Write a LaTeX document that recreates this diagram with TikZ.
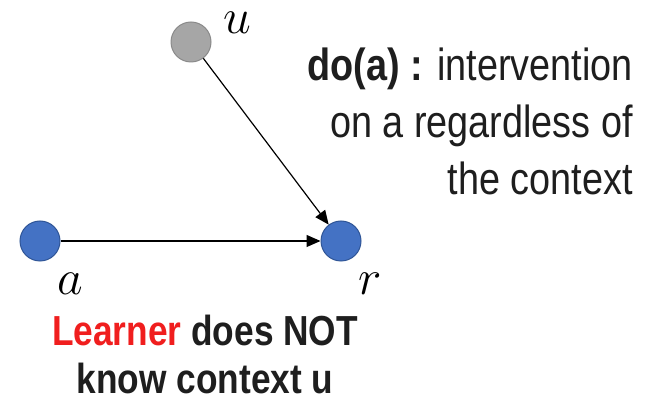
\documentclass[tikz,border=0pt]{standalone}
\usepackage{fontspec}
\setmainfont{Liberation Sans}
\usepackage{tikz}
\usetikzlibrary{arrows.meta,positioning}
\definecolor{CGBlue}{HTML}{4472C4}
\definecolor{CGBlueEdge}{HTML}{2F5597}
\definecolor{CGGray}{HTML}{A6A6A6}
\definecolor{CGGrayEdge}{HTML}{8A8A8A}
\definecolor{CGRed}{HTML}{F01E1E}
\definecolor{CGInk}{HTML}{1E1E1E}
\newcommand{\cgnarrow}[1]{\scalebox{0.84}[1]{#1}}
\begin{document}
\begin{tikzpicture}[
    x=0.5pt,y=-0.5pt,
    var/.style={circle,draw=CGBlueEdge,fill=CGBlue,line width=0.5pt,minimum size=20pt,inner sep=0pt},
    hidden/.style={circle,draw=CGGrayEdge,fill=CGGray,line width=0.5pt,minimum size=20pt,inner sep=0pt},
    lbl/.style={inner sep=0pt,anchor=base,font=\fontsize{30}{30}\selectfont},
    note/.style={inner sep=0pt,text=CGInk,font=\fontsize{22.5}{28.5}\selectfont},
    arrow/.style={-{Triangle[length=7pt,width=6pt]},line width=0.6pt,draw=black}
  ]
    \path[use as bounding box,fill=white] (0,0) rectangle (647,400);

    \node[hidden] (u) at (191,42) {};
    \node[var] (a) at (40,241) {};
    \node[var] (r) at (341,241) {};

    \node[lbl] (ulbl) at (237,34) {$u$};
    \node[lbl] (albl) at (70,295) {$a$};
    \node[lbl] (rlbl) at (370,295) {$r$};

    \draw[arrow] (a) -- (r);
    \draw[arrow] (u) -- (r);

    \node[note,align=right,anchor=north east] (doa) at (633,47)
      {\cgnarrow{\textbf{do(a) :} intervention}\\\cgnarrow{on a regardless of}\\\cgnarrow{the context}};
    \node[note,align=center,anchor=north,font=\fontsize{21}{24}\selectfont\bfseries] (learner) at (205,315)
      {\cgnarrow{\textcolor{CGRed}{Learner} does NOT}\\\cgnarrow{know context u}};
  \end{tikzpicture}
\end{document}
